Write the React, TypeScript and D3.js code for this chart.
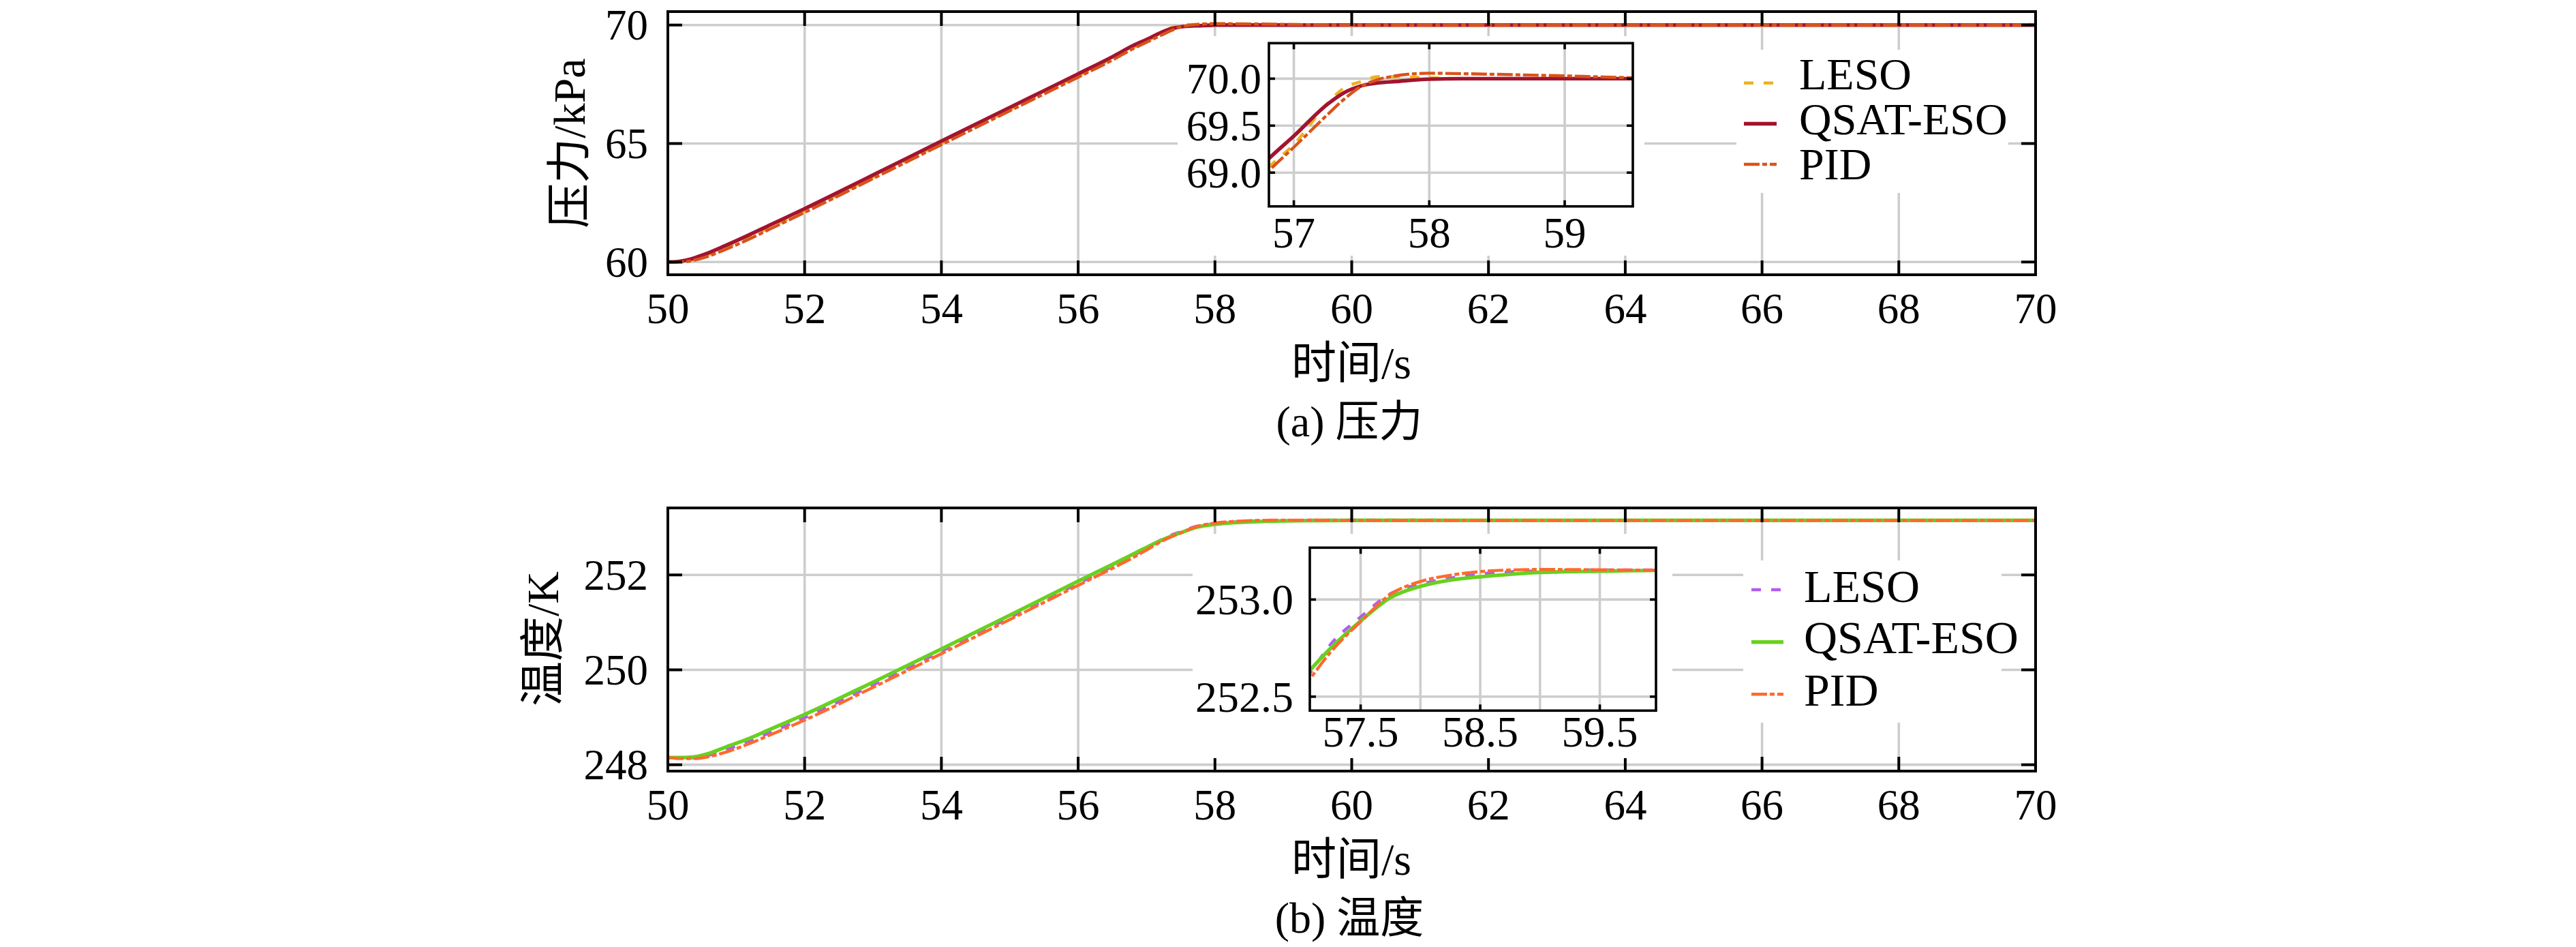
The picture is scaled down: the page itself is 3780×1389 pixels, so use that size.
import React, { useEffect, useRef } from "react";
import * as d3 from "d3";

// ---------- data ----------
const tP = [50, 50.15, 50.3, 50.57, 50.8, 51.14, 51.5, 52, 53, 54, 55, 56, 56.5, 56.816, 57, 57.25, 57.37, 57.5, 57.62, 57.75, 58, 58.25, 58.5, 59, 59.5, 60, 65, 70];
const qsatP = [60, 60.02, 60.1, 60.36, 60.64, 61.08, 61.57, 62.25, 63.67, 65.1, 66.52, 67.94, 68.66, 69.15, 69.39, 69.73, 69.85, 69.925, 69.955, 69.97, 69.995, 70.0, 70.0, 70.0, 70.0, 70.0, 70.0, 70.0];
const lesoP = [60, 60.0, 60.05, 60.28, 60.55, 60.98, 61.47, 62.15, 63.58, 65.01, 66.43, 67.86, 68.58, 69.06, 69.3, 69.74, 69.9, 69.97, 70.02, 70.02, 70.01, 70.0, 70.0, 70.0, 70.0, 70.0, 70.0, 70.0];
const pidP = [60, 60.0, 60.03, 60.22, 60.48, 60.9, 61.4, 62.09, 63.52, 64.95, 66.38, 67.8, 68.52, 69.02, 69.27, 69.62, 69.78, 69.92, 69.99, 70.03, 70.058, 70.053, 70.046, 70.03, 70.01, 70.0, 70.0, 70.0];

const tT = [50, 50.2, 50.4, 50.6, 50.86, 51.2, 51.5, 52, 53, 54, 55, 56, 56.5, 56.86, 57.075, 57.25, 57.5, 57.75, 58, 58.25, 58.5, 58.75, 59, 59.5, 60, 61, 65, 70];
const qsatT = [248.15, 248.15, 248.17, 248.24, 248.38, 248.56, 248.75, 249.06, 249.74, 250.44, 251.15, 251.87, 252.22, 252.48, 252.635, 252.75, 252.89, 253.01, 253.068, 253.1, 253.117, 253.13, 253.14, 253.146, 253.15, 253.15, 253.15, 253.15];
const lesoT = [248.15, 248.14, 248.15, 248.2, 248.32, 248.5, 248.68, 248.99, 249.68, 250.39, 251.1, 251.82, 252.18, 252.45, 252.62, 252.77, 252.91, 253.03, 253.079, 253.11, 253.132, 253.142, 253.148, 253.152, 253.152, 253.151, 253.15, 253.15];
const pidT = [248.15, 248.13, 248.13, 248.17, 248.27, 248.45, 248.63, 248.94, 249.63, 250.34, 251.06, 251.78, 252.14, 252.41, 252.59, 252.73, 252.886, 253.027, 253.093, 253.125, 253.144, 253.152, 253.155, 253.153, 253.151, 253.15, 253.15, 253.15];

const seriesNames = ["LESO", "QSAT-ESO", "PID"];
const mainXTicks = [50, 52, 54, 56, 58, 60, 62, 64, 66, 68, 70];
const pYTicks = [60, 65, 70];
const tYTicks = [248, 250, 252];
const pInsetXTicks = [57, 58, 59];
const pInsetYTicks = [69.0, 69.5, 70.0];
const tInsetXGrid = [57.5, 58, 58.5, 59, 59.5];
const tInsetXTicks = [57.5, 58.5, 59.5];
const tInsetYTicks = [252.5, 253.0];

const FONT = "'Liberation Serif', 'Times New Roman', 'Noto Sans CJK SC', serif";
const GRID = "#cdcdcd";

type Series = { t: number[]; v: number[]; color: string; dash: string; width: number };

function styles(colors: string[]) {
  return [
    { color: colors[0], dash: "14,15", width: 4.6 },
    { color: colors[1], dash: "", width: 5.4 },
    { color: colors[2], dash: "23,4,7,4", width: 4.4 },
  ];
}

let clipId = 0;

function drawAxes(
  root: d3.Selection<SVGGElement, unknown, null, undefined>,
  o: {
    x0: number; x1: number; y0: number; y1: number;
    xDomain: [number, number]; yDomain: [number, number];
    xGrid: number[]; yGrid: number[]; xTicks: number[]; yTicks: number[];
    tickLen: number; frameW: number; series: Series[];
    fontSize: number; xLabelBaseline: number; yLabelRight: number;
    xFmt: (v: number) => string; yFmt: (v: number) => string;
    box?: [number, number, number, number];
  }
) {
  const x = d3.scaleLinear().domain(o.xDomain).range([o.x0, o.x1]);
  const y = d3.scaleLinear().domain(o.yDomain).range([o.y1, o.y0]);
  const g = root.append("g");
  if (o.box) {
    g.append("rect").attr("x", o.box[0]).attr("y", o.box[1])
      .attr("width", o.box[2] - o.box[0]).attr("height", o.box[3] - o.box[1]).attr("fill", "#fff");
  }
  const id = "clip" + clipId++;
  g.append("clipPath").attr("id", id).append("rect")
    .attr("x", o.x0).attr("y", o.y0).attr("width", o.x1 - o.x0).attr("height", o.y1 - o.y0);
  const grid = g.append("g").attr("stroke", GRID).attr("stroke-width", 3.6);
  o.xGrid.forEach((v) => grid.append("line").attr("x1", x(v)).attr("x2", x(v)).attr("y1", o.y0).attr("y2", o.y1));
  o.yGrid.forEach((v) => grid.append("line").attr("y1", y(v)).attr("y2", y(v)).attr("x1", o.x0).attr("x2", o.x1));

  const line = d3.line<[number, number]>().x((d) => x(d[0])).y((d) => y(d[1])).curve(d3.curveMonotoneX);
  const lg = g.append("g").attr("clip-path", `url(#${id})`);
  o.series.forEach((s) => {
    const pts = s.t.map((t, i) => [t, s.v[i]] as [number, number]);
    lg.append("path").attr("d", line(pts) as string).attr("fill", "none")
      .attr("stroke", s.color).attr("stroke-width", s.width)
      .attr("stroke-dasharray", s.dash || null).attr("stroke-linejoin", "round");
  });

  const tk = g.append("g").attr("stroke", "#000").attr("stroke-width", o.frameW);
  o.xTicks.forEach((v) => {
    tk.append("line").attr("x1", x(v)).attr("x2", x(v)).attr("y1", o.y1).attr("y2", o.y1 - o.tickLen);
    tk.append("line").attr("x1", x(v)).attr("x2", x(v)).attr("y1", o.y0).attr("y2", o.y0 + o.tickLen);
  });
  o.yTicks.forEach((v) => {
    tk.append("line").attr("y1", y(v)).attr("y2", y(v)).attr("x1", o.x0).attr("x2", o.x0 + o.tickLen);
    tk.append("line").attr("y1", y(v)).attr("y2", y(v)).attr("x1", o.x1).attr("x2", o.x1 - o.tickLen);
  });
  g.append("rect").attr("x", o.x0).attr("y", o.y0).attr("width", o.x1 - o.x0).attr("height", o.y1 - o.y0)
    .attr("fill", "none").attr("stroke", "#000").attr("stroke-width", o.frameW);

  const tl = g.append("g").attr("font-family", FONT).attr("font-size", o.fontSize).attr("fill", "#000");
  o.xTicks.forEach((v) =>
    tl.append("text").attr("x", x(v)).attr("y", o.xLabelBaseline).attr("text-anchor", "middle").text(o.xFmt(v)));
  o.yTicks.forEach((v) =>
    tl.append("text").attr("x", o.yLabelRight).attr("y", y(v) + o.fontSize * 0.34).attr("text-anchor", "end").text(o.yFmt(v)));
}

function drawLegend(
  root: d3.Selection<SVGGElement, unknown, null, undefined>,
  o: { box: [number, number, number, number]; lx0: number; lx1: number; lys: number[]; tx: number; tys: number[]; fontSize: number; st: { color: string; dash: string; width: number }[] }
) {
  const g = root.append("g");
  g.append("rect").attr("x", o.box[0]).attr("y", o.box[1]).attr("width", o.box[2] - o.box[0]).attr("height", o.box[3] - o.box[1]).attr("fill", "#fff");
  seriesNames.forEach((n, i) => {
    const s = o.st[i];
    g.append("line").attr("x1", o.lx0).attr("x2", o.lx1).attr("y1", o.lys[i]).attr("y2", o.lys[i])
      .attr("stroke", s.color).attr("stroke-width", s.width).attr("stroke-dasharray", s.dash || null);
    g.append("text").attr("x", o.tx).attr("y", o.tys[i]).attr("font-family", FONT).attr("font-size", o.fontSize).text(n);
  });
}

export default function App() {
  const ref = useRef<SVGSVGElement | null>(null);
  useEffect(() => {
    const svg = d3.select(ref.current);
    svg.selectAll("*").remove();
    clipId = 0;
    const root = svg.append("g");

    const stP = styles(["#EDB120", "#A2142F", "#D95319"]);
    const stT = styles(["#B15DF0", "#68D11F", "#FF6A2C"]);
    const serP: Series[] = [lesoP, qsatP, pidP].map((v, i) => ({ t: tP, v, ...stP[i] }));
    const serT: Series[] = [lesoT, qsatT, pidT].map((v, i) => ({ t: tT, v, ...stT[i] }));
    const f0 = (v: number) => d3.format("d")(v);
    const f1 = (v: number) => d3.format(".1f")(v);

    // ---- (a) pressure ----
    drawAxes(root, {
      x0: 980, x1: 2987, y0: 17, y1: 403, xDomain: [50, 70], yDomain: [59.462, 70.567],
      xGrid: mainXTicks, yGrid: pYTicks, xTicks: mainXTicks, yTicks: pYTicks, tickLen: 21, frameW: 4,
      series: serP, fontSize: 63, xLabelBaseline: 474, yLabelRight: 951, xFmt: f0, yFmt: f0,
    });
    drawAxes(root, {
      x0: 1862, x1: 2396, y0: 63.3, y1: 302.7, xDomain: [56.816, 59.503], yDomain: [68.641, 70.378],
      xGrid: pInsetXTicks, yGrid: pInsetYTicks, xTicks: pInsetXTicks, yTicks: pInsetYTicks, tickLen: 9, frameW: 3.6,
      series: serP, fontSize: 63, xLabelBaseline: 363, yLabelRight: 1851, xFmt: f0, yFmt: f1,
      box: [1728, 53, 2413, 375],
    });
    drawLegend(root, {
      box: [2548, 73, 2947, 283], lx0: 2559, lx1: 2607, lys: [121.7, 181.5, 241], tx: 2640, tys: [130.7, 196.7, 263.3], fontSize: 66, st: stP,
    });

    // ---- (b) temperature ----
    drawAxes(root, {
      x0: 980, x1: 2987, y0: 745, y1: 1131, xDomain: [50, 70], yDomain: [247.866, 253.412],
      xGrid: mainXTicks, yGrid: tYTicks, xTicks: mainXTicks, yTicks: tYTicks, tickLen: 21, frameW: 4,
      series: serT, fontSize: 63, xLabelBaseline: 1202, yLabelRight: 951, xFmt: f0, yFmt: f0,
    });
    drawAxes(root, {
      x0: 1922, x1: 2430, y0: 803.3, y1: 1042.3, xDomain: [57.075, 59.97], yDomain: [252.428, 253.267],
      xGrid: tInsetXGrid, yGrid: tInsetYTicks, xTicks: tInsetXTicks, yTicks: tInsetYTicks, tickLen: 9, frameW: 3.6,
      series: serT, fontSize: 64, xLabelBaseline: 1095, yLabelRight: 1898, xFmt: f1, yFmt: f1,
      box: [1750, 783, 2454, 1112],
    });
    drawLegend(root, {
      box: [2558, 822, 2937, 1060], lx0: 2570, lx1: 2617, lys: [865, 941.7, 1018.3], tx: 2647, tys: [882.7, 958.3, 1035], fontSize: 68, st: stT,
    });

    // ---- axis titles & captions ----
    const txt = root.append("g").attr("font-family", FONT).attr("fill", "#000");
    txt.append("text").attr("transform", "translate(858,210) rotate(-90)").attr("text-anchor", "middle").attr("font-size", 66).text("压力/kPa");
    txt.append("text").attr("transform", "translate(819,937) rotate(-90)").attr("text-anchor", "middle").attr("font-size", 66).text("温度/K");
    txt.append("text").attr("x", 1983).attr("y", 555).attr("text-anchor", "middle").attr("font-size", 66).text("时间/s");
    txt.append("text").attr("x", 1983).attr("y", 1283).attr("text-anchor", "middle").attr("font-size", 66).text("时间/s");
    txt.append("text").attr("x", 1980).attr("y", 640).attr("text-anchor", "middle").attr("font-size", 64).text("(a) 压力");
    txt.append("text").attr("x", 1980).attr("y", 1368).attr("text-anchor", "middle").attr("font-size", 64).text("(b) 温度");
  }, []);
  return (
    <svg ref={ref} width={3780} height={1389} viewBox="0 0 3780 1389"
      style={{ position: "absolute", left: 0, top: 0, display: "block", background: "#fff" }} />
  );
}
